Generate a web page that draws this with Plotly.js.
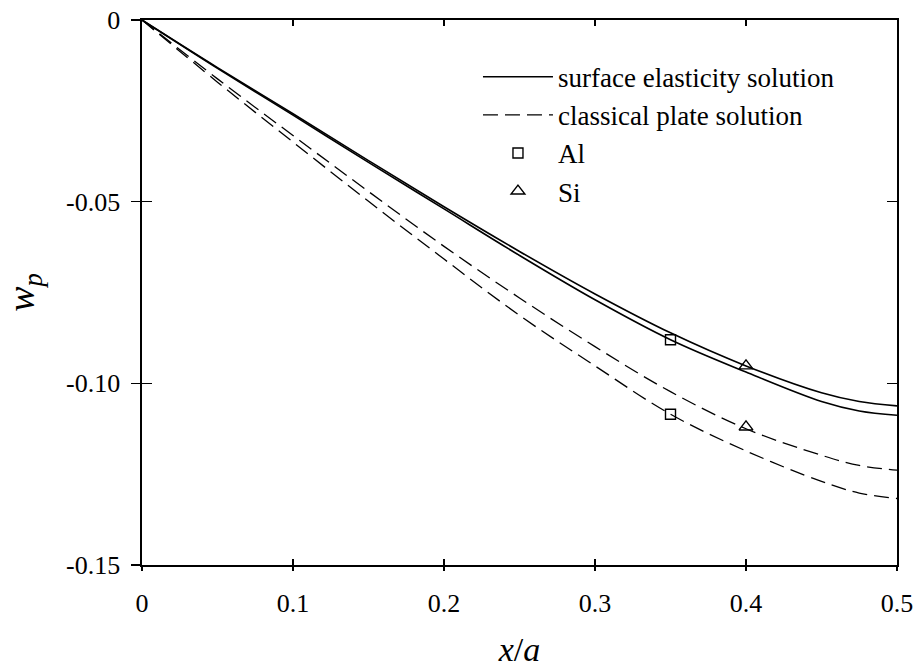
<!DOCTYPE html>
<html>
<head>
<meta charset="utf-8">
<script src="https://cdn.plot.ly/plotly-3.0.1.min.js"></script>
<style>html,body{margin:0;padding:0;background:#fff;}#chart{width:917px;height:668px;}</style>
</head>
<body>
<div id="chart"></div>
<script>
// x/a positions
const xVals = [0, 0.05, 0.1, 0.15, 0.2, 0.25, 0.3, 0.35, 0.4, 0.45, 0.475, 0.5];
// surface elasticity solutions (two materials)
const surfA = [0, -0.0131, -0.0258, -0.0387, -0.0514, -0.0637, -0.0754, -0.0861, -0.0952, -0.1026, -0.1050, -0.1062];
const surfB = [0, -0.0133, -0.0262, -0.0392, -0.0520, -0.0648, -0.0770, -0.0880, -0.0969, -0.1050, -0.1076, -0.1088];
// classical plate solutions
const classA = [0, -0.0162, -0.0318, -0.0472, -0.0623, -0.0765, -0.0899, -0.1023, -0.1125, -0.1198, -0.1226, -0.1239];
const classB = [0, -0.0171, -0.0336, -0.0499, -0.0658, -0.0813, -0.0952, -0.1085, -0.1186, -0.1270, -0.1302, -0.1317];
// markers
const alX = [0.35, 0.35];
const alY = [-0.0880, -0.1085];
const siX = [0.4, 0.4];
const siY = [-0.0952, -0.1120];
const xTicks = [0, 0.1, 0.2, 0.3, 0.4, 0.5];
const xTickText = ['0', '0.1', '0.2', '0.3', '0.4', '0.5'];
const yTicks = [0, -0.05, -0.10, -0.15];
const yTickText = ['0', '-0.05', '-0.10', '-0.15'];

const FONT = 'Liberation Serif, serif';
const solid = {color: '#000', width: 1.6, dash: 'solid', shape: 'spline', smoothing: 1};
const dashed = {color: '#000', width: 1.3, dash: '15px,7px', shape: 'spline', smoothing: 1};

const traces = [
  {x: xVals, y: surfA, mode: 'lines', line: solid, name: 'surface elasticity solution'},
  {x: xVals, y: surfB, mode: 'lines', line: solid, showlegend: false},
  {x: xVals, y: classA, mode: 'lines', line: dashed, name: 'classical plate solution'},
  {x: xVals, y: classB, mode: 'lines', line: dashed, showlegend: false},
  {x: alX, y: alY, mode: 'markers', name: 'Al',
   marker: {symbol: 'square-open', size: 10, color: '#000', line: {width: 1.4, color: '#000'}}},
  {x: siX, y: siY, mode: 'markers', name: 'Si',
   marker: {symbol: 'triangle-up-open', size: 12, color: '#000', line: {width: 1.4, color: '#000'}}},
  // overlay axes for the outward part of the crossing ticks
  {x: [0], y: [0], xaxis: 'x2', yaxis: 'y2', mode: 'markers', marker: {opacity: 0}, showlegend: false, hoverinfo: 'skip'}
];

const layout = {
  width: 917, height: 668,
  margin: {l: 142, r: 20, t: 20, b: 103},
  paper_bgcolor: '#fff', plot_bgcolor: '#fff',
  font: {family: FONT, size: 26, color: '#000'},
  showlegend: true,
  legend: {x: 0.445, y: 0.94, xanchor: 'left', yanchor: 'top', bgcolor: 'rgba(0,0,0,0)',
           font: {family: FONT, size: 27, color: '#000'}, tracegroupgap: 0, itemwidth: 70},
  xaxis: {range: [0, 0.5], tickvals: xTicks, ticktext: xTickText, ticks: 'inside', ticklen: 6,
          tickwidth: 1.3, tickcolor: '#000', showline: true, linecolor: '#000', linewidth: 1.6, mirror: 'ticks',
          showgrid: false, zeroline: false, tickfont: {family: FONT, size: 26}, ticklabelstandoff: 14,
          title: {text: '<i>x</i>/<i>a</i>', font: {family: FONT, size: 34}, standoff: 35}},
  yaxis: {range: [-0.15, 0], tickvals: yTicks, ticktext: yTickText, ticks: 'inside', ticklen: 10,
          tickwidth: 1.3, tickcolor: '#000', showline: true, linecolor: '#000', linewidth: 1.6, mirror: 'ticks',
          showgrid: false, zeroline: false, tickfont: {family: FONT, size: 26}, ticklabelstandoff: 15,
          title: {text: '<i>w</i><sub><i>p</i></sub>', font: {family: FONT, size: 38}, standoff: 30}},
  xaxis2: {overlaying: 'x', side: 'bottom', range: [0, 0.5], tickvals: xTicks, ticks: 'outside', ticklen: 5,
           tickwidth: 1.3, tickcolor: '#000', showticklabels: false, showgrid: false, zeroline: false, showline: false},
  yaxis2: {overlaying: 'y', side: 'left', range: [-0.15, 0], tickvals: yTicks, ticks: 'outside', ticklen: 10,
           tickwidth: 1.3, tickcolor: '#000', showticklabels: false, showgrid: false, zeroline: false, showline: false}
};

Plotly.newPlot('chart', traces, layout, {displayModeBar: false, staticPlot: true});
</script>
</body>
</html>
